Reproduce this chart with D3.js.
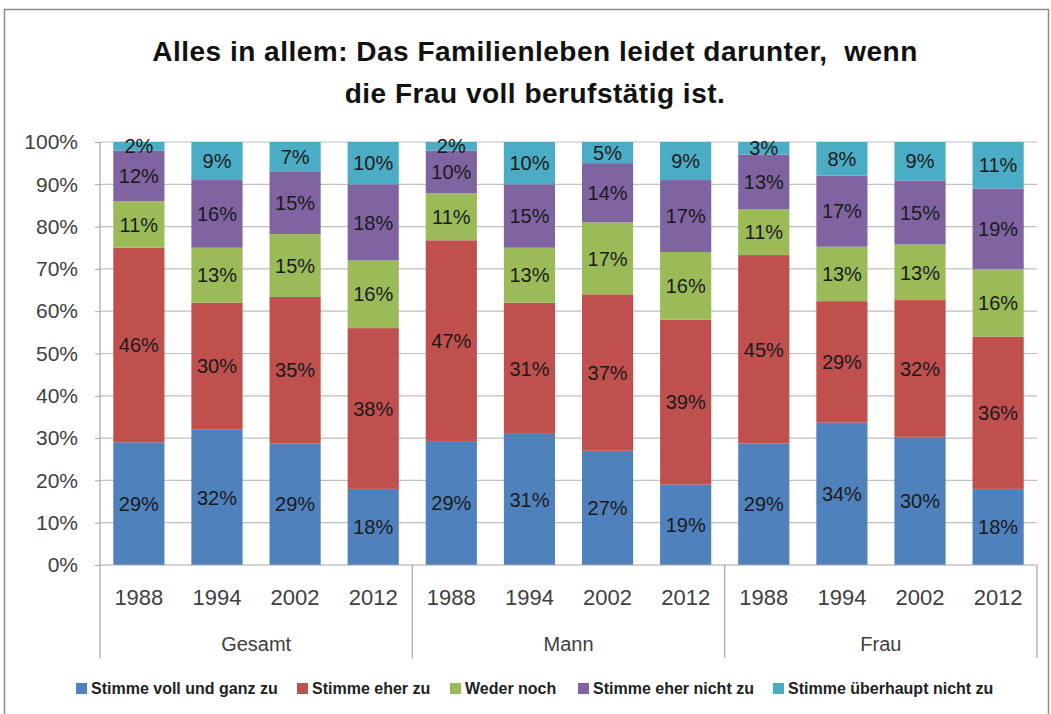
<!DOCTYPE html>
<html>
<head>
<meta charset="utf-8">
<script src="https://cdn.jsdelivr.net/npm/d3@7"></script>
<style>
  body { margin: 0; background: #fff; }
  svg { display: block; font-family: "Liberation Sans", Arial, sans-serif; }
</style>
</head>
<body>
<svg id="chart" width="1051" height="714"></svg>
<script>
// categories: years within groups
const groups = ["Gesamt", "Mann", "Frau"];
const years = ["1988", "1994", "2002", "2012"];
const series = ["Stimme voll und ganz zu", "Stimme eher zu", "Weder noch", "Stimme eher nicht zu", "Stimme überhaupt nicht zu"];
const colors = ["#4F81BD", "#C0504D", "#9BBB59", "#8064A2", "#4BACC6"];
const yTicks = [0, 0.1, 0.2, 0.3, 0.4, 0.5, 0.6, 0.7, 0.8, 0.9, 1];

// values per series, in order Gesamt 88..12, Mann 88..12, Frau 88..12
const vollUndGanz   = [29, 32, 29, 18, 29, 31, 27, 19, 29, 34, 30, 18];
const eherZu        = [46, 30, 35, 38, 47, 31, 37, 39, 45, 29, 32, 36];
const wederNoch     = [11, 13, 15, 16, 11, 13, 17, 16, 11, 13, 13, 16];
const eherNicht     = [12, 16, 15, 18, 10, 15, 14, 17, 13, 17, 15, 19];
const ueberhauptNicht = [2, 9, 7, 10, 2, 10, 5, 9, 3, 8, 9, 11];
const values = [vollUndGanz, eherZu, wederNoch, eherNicht, ueberhauptNicht];

const svg = d3.select("#chart");
const margin = {left: 100, right: 14, top: 142, bottom: 149};
const W = 1051, H = 714;

// chart border
svg.append("rect")
    .attr("x", 4.5).attr("y", 9.5)
    .attr("width", 1044).attr("height", 720)
    .attr("fill", "#fff").attr("stroke", "#8c8c8c").attr("stroke-width", 1.5);

// title
const title = svg.append("text")
    .attr("text-anchor", "middle")
    .attr("font-weight", "bold")
    .attr("font-size", 28)
    .attr("letter-spacing", 0.5)
    .attr("fill", "#111");
title.append("tspan").attr("x", 535).attr("y", 61).text("Alles in allem: Das Familienleben leidet darunter,\u00a0 wenn");
title.append("tspan").attr("x", 535).attr("y", 103).text("die Frau voll berufstätig ist.");

// build rows: one per bar
const rows = [];
groups.forEach((g, gi) => {
  years.forEach((yr, yi) => {
    const i = gi * years.length + yi;
    const row = {key: g + "-" + yr, group: g, year: yr};
    const total = d3.sum(values, v => v[i]);
    series.forEach((s, si) => { row[s] = values[si][i] / total; row["_" + s] = values[si][i]; });
    rows.push(row);
  });
});

const x = d3.scaleBand()
    .domain(rows.map(d => d.key))
    .range([margin.left, W - margin.right])
    .paddingInner(0.345)
    .paddingOuter(0.17);

const y = d3.scaleLinear()
    .domain([0, 1])
    .range([H - margin.bottom, margin.top]);

// gridlines + y axis
const yAxis = svg.append("g")
    .attr("transform", `translate(${margin.left},0)`)
    .call(d3.axisLeft(y).tickValues(yTicks).tickFormat(d3.format(".0%")).tickSize(5).tickPadding(17));
yAxis.select(".domain").remove();
yAxis.selectAll(".tick line").attr("stroke", "#a6a6a6");
yAxis.selectAll(".tick text")
    .attr("font-size", 21)
    .attr("font-family", "Liberation Sans, Arial, sans-serif")
    .attr("fill", "#404040");

svg.append("g")
    .selectAll("line")
    .data(yTicks.filter(t => t > 0))
    .join("line")
    .attr("x1", margin.left).attr("x2", W - margin.right)
    .attr("y1", d => y(d)).attr("y2", d => y(d))
    .attr("stroke", "#bfbfbf").attr("stroke-width", 1.2);

// stacked bars
const stack = d3.stack().keys(series);
const stacked = stack(rows);

const layers = svg.append("g")
    .selectAll("g")
    .data(stacked)
    .join("g")
    .attr("fill", (d, i) => colors[i]);

layers.selectAll("rect")
    .data(d => d)
    .join("rect")
    .attr("x", d => x(d.data.key))
    .attr("width", x.bandwidth())
    .attr("y", d => y(d[1]))
    .attr("height", d => y(d[0]) - y(d[1]));

// segment labels
layers.each(function(layer) {
  d3.select(this).selectAll("text")
    .data(layer)
    .join("text")
    .attr("x", d => x(d.data.key) + x.bandwidth() / 2)
    .attr("y", d => (y(d[0]) + y(d[1])) / 2)
    .attr("dy", "0.36em")
    .attr("text-anchor", "middle")
    .attr("font-size", 20)
    .attr("fill", "#1a1a1a")
    .text(d => d.data["_" + layer.key] + "%");
});

// axes lines
svg.append("line")
    .attr("x1", margin.left).attr("x2", margin.left)
    .attr("y1", margin.top).attr("y2", 658)
    .attr("stroke", "#a6a6a6").attr("stroke-width", 1.2);
svg.append("line")
    .attr("x1", margin.left).attr("x2", W - margin.right)
    .attr("y1", y(0)).attr("y2", y(0))
    .attr("stroke", "#a6a6a6").attr("stroke-width", 1.2);

// year labels
svg.append("g")
    .selectAll("text")
    .data(rows)
    .join("text")
    .attr("x", d => x(d.key) + x.bandwidth() / 2)
    .attr("y", 605)
    .attr("text-anchor", "middle")
    .attr("font-size", 22)
    .attr("fill", "#404040")
    .text(d => d.year);

// group labels + separators
const groupScale = d3.scaleBand()
    .domain(groups)
    .range([margin.left, W - margin.right]);

svg.append("g")
    .selectAll("line")
    .data(groups)
    .join("line")
    .attr("x1", d => groupScale(d) + groupScale.bandwidth())
    .attr("x2", d => groupScale(d) + groupScale.bandwidth())
    .attr("y1", y(0)).attr("y2", 658)
    .attr("stroke", "#a6a6a6").attr("stroke-width", 1.2);

svg.append("g")
    .selectAll("text")
    .data(groups)
    .join("text")
    .attr("x", d => groupScale(d) + groupScale.bandwidth() / 2)
    .attr("y", 651)
    .attr("text-anchor", "middle")
    .attr("font-size", 20)
    .attr("fill", "#404040")
    .text(d => d);

// legend
const legendX = [76, 297, 450, 578, 773];
const legend = svg.append("g")
    .selectAll("g")
    .data(series)
    .join("g")
    .attr("transform", (d, i) => `translate(${legendX[i]},688)`);
legend.append("rect")
    .attr("x", 0).attr("y", -5)
    .attr("width", 11).attr("height", 11)
    .attr("fill", (d, i) => colors[i]);
legend.append("text")
    .attr("x", 15)
    .attr("dy", "0.36em")
    .attr("font-weight", "bold")
    .attr("font-size", 16)
    .attr("fill", "#222")
    .text(d => d);
</script>
</body>
</html>
